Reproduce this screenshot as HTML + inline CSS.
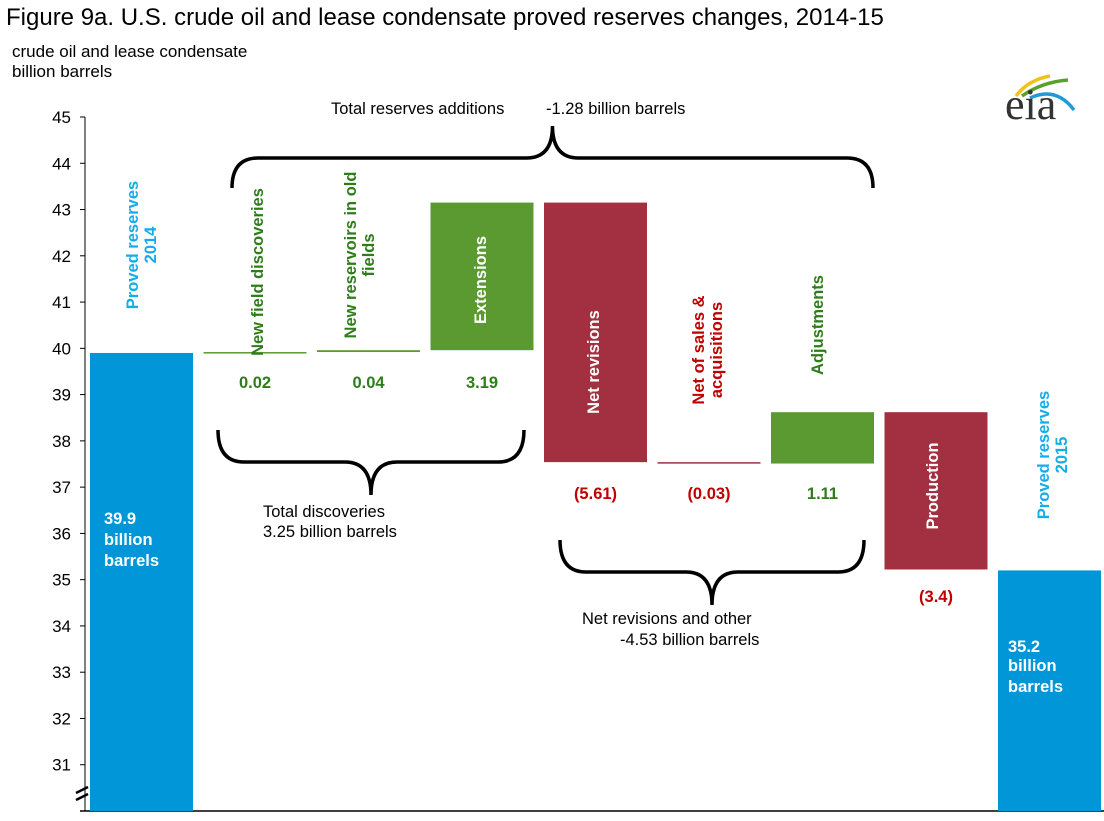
<!DOCTYPE html>
<html><head><meta charset="utf-8"><style>
body{margin:0;background:#fff;font-family:"Liberation Sans",Arial,sans-serif}
svg{display:block}
</style></head><body>
<svg id="chart" width="1104" height="821" viewBox="0 0 1104 821" xmlns="http://www.w3.org/2000/svg" font-family="Liberation Sans, Arial, sans-serif">
<text x="6" y="25" font-size="24" fill="#000">Figure 9a. U.S. crude oil and lease condensate proved reserves changes, 2014-15</text>
<text x="12" y="57" font-size="17" fill="#000">crude oil and lease condensate</text>
<text x="12" y="77" font-size="17" fill="#000">billion barrels</text>
<g>
<path d="M1016 96 Q1028 80 1050 76" stroke="#f2c21b" stroke-width="3.5" fill="none"/>
<path d="M1022 96 Q1042 82 1068 80" stroke="#5aa02c" stroke-width="3.5" fill="none"/>
<path d="M1030 98 Q1056 86 1074 110" stroke="#1e9ad6" stroke-width="3.5" fill="none"/>
<text x="1005" y="119" font-family="Liberation Serif, serif" font-size="44" fill="#333">eia</text>
</g>
<g id="axis"></g>
<g id="bars"></g>
<g id="annot"></g>
</svg>
<script>
const categories=["Proved reserves 2014","New field discoveries","New reservoirs in old fields","Extensions","Net revisions","Net of sales & acquisitions","Adjustments","Production","Proved reserves 2015"];
const changes=[39.9,0.02,0.04,3.19,-5.61,-0.03,1.11,-3.4,35.2];
const valueLabels=["39.9","0.02","0.04","3.19","(5.61)","(0.03)","1.11","(3.4)","35.2"];
const kinds=["total","delta","delta","delta","delta","delta","delta","delta","total"];
const yTicks=[31,32,33,34,35,36,37,38,39,40,41,42,43,44,45];
const NS="http://www.w3.org/2000/svg";
const yMin=30,yMax=45,pTop=117,pBot=811;
function y(v){return pTop+(yMax-v)*(pBot-pTop)/(yMax-yMin);}
function xs(i){return 90+i*113.5;}
const bw=103;
function mk(tag,attrs,parent){const e=document.createElementNS(NS,tag);for(const k in attrs)e.setAttribute(k,attrs[k]);parent.appendChild(e);return e;}
const ax=document.getElementById('axis'),bars=document.getElementById('bars'),an=document.getElementById('annot');
let l=mk('line',{x1:85,y1:117,x2:85,y2:811,stroke:'#000','stroke-width':1},ax);

l=mk('line',{x1:80,y1:811,x2:1104,y2:811,stroke:'#000','stroke-width':1.5},ax);

yTicks.forEach(t=>{
 mk('line',{x1:80,y1:y(t),x2:85,y2:y(t),stroke:'#000'},ax);
 const tx=mk('text',{x:71,y:y(t)+6,'font-size':17,'text-anchor':'end',fill:'#000'},ax);
 tx.textContent=t;
 
 
});
l=mk('path',{d:'M76 793 L88 787 M76 800 L88 794',stroke:'#000','stroke-width':2.5,fill:'none'},ax);

let run=0;
changes.forEach((c,i)=>{
 let a,b,col;
 if(kinds[i]==='total'){a=yMin;b=c;run=c;col='#0096d7';}
 else{a=run;b=run+c;run=b;col=c>=0?'#5a9a31':'#a23040';}
 const top=y(Math.max(a,b)),bot=y(Math.min(a,b));
 const r=mk('rect',{x:xs(i),y:top,width:bw,height:Math.max(bot-top,1.5),fill:col},bars);
 
 
});
function rot(lines,cx,cy,color,name){
 const t=mk('text',{transform:`translate(${cx},${cy}) rotate(-90)`,'font-size':16.5,'font-weight':'bold','text-anchor':'middle',fill:color},an);
 lines.forEach((s,k)=>{const ts=mk('tspan',{x:0,dy:k===0?(-(lines.length-1)*9+5):18},t);ts.textContent=s;});
 
}
rot(["Proved reserves","2014"],142,245,'#13aee8','label-proved-2014');
rot(["New field discoveries"],258,272,'#2e7d1a','label-new-field');
rot(["New reservoirs in old","fields"],360,255,'#2e7d1a','label-new-reservoirs');
rot(["Extensions"],481,280,'#fff','label-extensions');
rot(["Net revisions"],594,362,'#fff','label-net-revisions');
rot(["Net of sales &","acquisitions"],708,350,'#c00000','label-net-sales');
rot(["Adjustments"],818,325,'#2e7d1a','label-adjustments');
rot(["Production"],933,486,'#fff','label-production');
rot(["Proved reserves","2015"],1053,455,'#13aee8','label-proved-2015');
function txt(s,x,yy,color,name,bold,anchor){const t=mk('text',{x:x,y:yy,'font-size':16.5,'font-weight':bold?'bold':'normal','text-anchor':anchor||'middle',fill:color},an);t.textContent=s;return t;}
txt(valueLabels[1],xs(1)+bw/2,388,'#2e7d1a','value-1',1);
txt(valueLabels[2],xs(2)+bw/2,388,'#2e7d1a','value-2',1);
txt(valueLabels[3],xs(3)+bw/2,388,'#2e7d1a','value-3',1);
txt(valueLabels[4],xs(4)+bw/2,499,'#c00000','value-4',1);
txt(valueLabels[5],xs(5)+bw/2,499,'#c00000','value-5',1);
txt(valueLabels[6],xs(6)+bw/2,499,'#2e7d1a','value-6',1);
txt(valueLabels[7],xs(7)+bw/2,602,'#c00000','value-7',1);
txt(valueLabels[0],104,524,'#fff','value-0-l1',1,'start');
txt("billion",104,545,'#fff','value-0-l2',1,'start');
txt("barrels",104,566,'#fff','value-0-l3',1,'start');
txt(valueLabels[8],1008,652,'#fff','value-8-l1',1,'start');
txt("billion",1008,671,'#fff','value-8-l2',1,'start');
txt("barrels",1008,692,'#fff','value-8-l3',1,'start');
txt("Total  reserves additions",331,114,'#000','total-additions-label',0,'start');
txt("-1.28 billion barrels",546,114,'#000','total-additions-value',0,'start');
txt("Total discoveries",263,517,'#000','total-discoveries-l1',0,'start');
txt("3.25 billion barrels",263,537,'#000','total-discoveries-l2',0,'start');
txt("Net revisions and other",582,624,'#000','net-revisions-other-l1',0,'start');
txt("-4.53 billion barrels",620,645,'#000','net-revisions-other-l2',0,'start');
function brace(x1,x2,yEnd,yMid,yTip,name){
 const xm=(x1+x2)/2,r=26;
 const d=`M${x1} ${yEnd} Q${x1} ${yMid} ${x1+r} ${yMid} L${xm-r} ${yMid} Q${xm} ${yMid} ${xm} ${yTip} Q${xm} ${yMid} ${xm+r} ${yMid} L${x2-r} ${yMid} Q${x2} ${yMid} ${x2} ${yEnd}`;
 const p=mk('path',{d:d,stroke:'#000','stroke-width':3.5,fill:'none'},an);
 
}
brace(232,873,188,158,126,'brace-total-additions');
brace(218,524,430,462,495,'brace-total-discoveries');
brace(560,864,540,572,605,'brace-net-revisions');
</script>
</body></html>
